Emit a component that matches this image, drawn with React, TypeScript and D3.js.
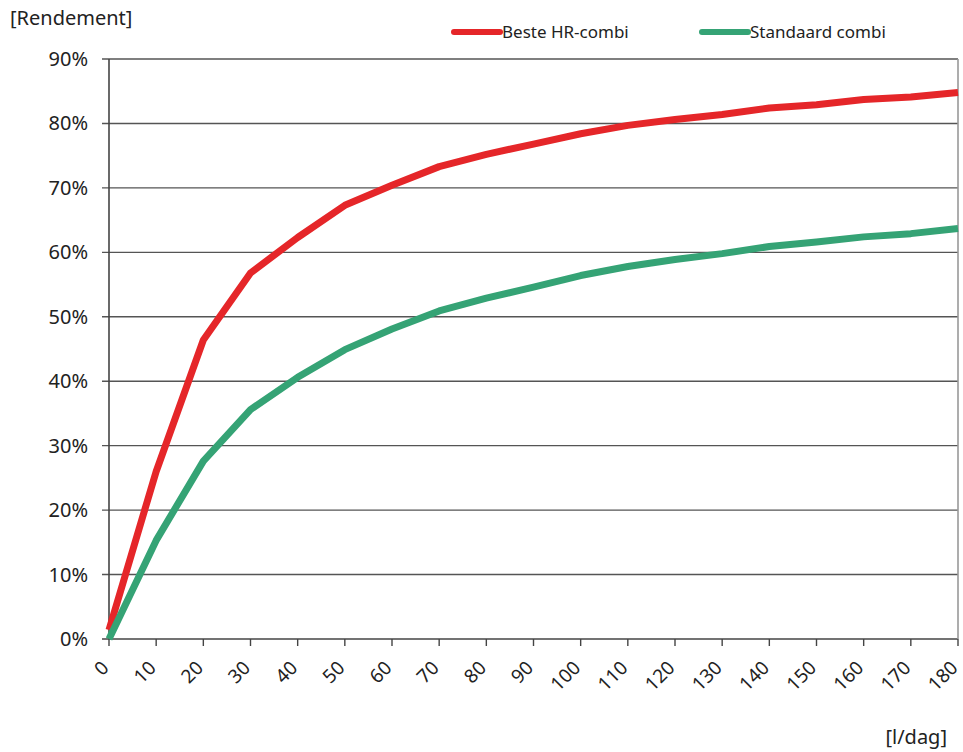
import React from "react";
import * as d3 from "d3";

const xValues = [0, 10, 20, 30, 40, 50, 60, 70, 80, 90, 100, 110, 120, 130, 140, 150, 160, 170, 180];
const besteHR = [1.4, 26, 46.4, 56.8, 62.3, 67.3, 70.4, 73.3, 75.2, 76.8, 78.4, 79.7, 80.6, 81.4, 82.4, 82.9, 83.7, 84.1, 84.8];
const standaard = [0, 15.3, 27.6, 35.6, 40.6, 44.9, 48.1, 50.9, 52.9, 54.6, 56.4, 57.8, 58.9, 59.8, 60.9, 61.6, 62.4, 62.9, 63.7];
const yTicks = [0, 10, 20, 30, 40, 50, 60, 70, 80, 90];
const seriesNames = ["Beste HR-combi", "Standaard combi"];
const colors = ["#e52629", "#35a375"];

const FONT = "'Noto Sans', 'Open Sans', sans-serif";

export default function App() {
  const W = 963, H = 752;
  const left = 109, right = 958, top = 59, bottom = 639;
  const x = d3.scaleLinear().domain([0, 180]).range([left, right]);
  const y = d3.scaleLinear().domain([0, 90]).range([bottom, top]);
  const line = d3.line<number>().x((_, i) => x(xValues[i])).y((d) => y(d));
  const series = [besteHR, standaard];
  const legendX = [452, 700];

  return (
    <svg width={W} height={H} style={{ position: "absolute", left: 0, top: 0 }} fontFamily={FONT}>
      <rect width={W} height={H} fill="#fff" />
      {yTicks.map((t) => (
        <g key={t}>
          <line x1={left - 7} x2={right} y1={y(t)} y2={y(t)} stroke={t === 0 ? "#444" : "#555"} strokeWidth={1.4} />
          <text x={88} y={y(t) + 7} textAnchor="end" fontSize={20} fill="#222">{t}%</text>
        </g>
      ))}
      <line x1={left} x2={left} y1={top} y2={bottom} stroke="#444" strokeWidth={1.6} />
      <line x1={right} x2={right} y1={top} y2={bottom} stroke="#999" strokeWidth={1.6} />
      {xValues.map((v) => (
        <g key={v}>
          <line x1={x(v)} x2={x(v)} y1={bottom} y2={bottom + 7} stroke="#444" strokeWidth={1.4} />
          <text
            transform={`translate(${x(v) + 1},${bottom + 30}) rotate(-45)`}
            textAnchor="end"
            fontSize={19}
            fill="#222"
          >{v}</text>
        </g>
      ))}
      {series.map((s, i) => (
        <path key={i} d={line(s) || ""} fill="none" stroke={colors[i]} strokeWidth={7} strokeLinejoin="round" />
      ))}
      {seriesNames.map((n, i) => (
        <g key={n}>
          <line x1={legendX[i] + 2} x2={legendX[i] + 48} y1={32} y2={32} stroke={colors[i]} strokeWidth={6} strokeLinecap="round" />
          <text x={legendX[i] + 50} y={38} fontSize={17} fill="#222">{n}</text>
        </g>
      ))}
      <text x={10} y={25} fontSize={20} fill="#222">[Rendement]</text>
      <text x={947} y={744} textAnchor="end" fontSize={20} fill="#222">[l/dag]</text>
    </svg>
  );
}
